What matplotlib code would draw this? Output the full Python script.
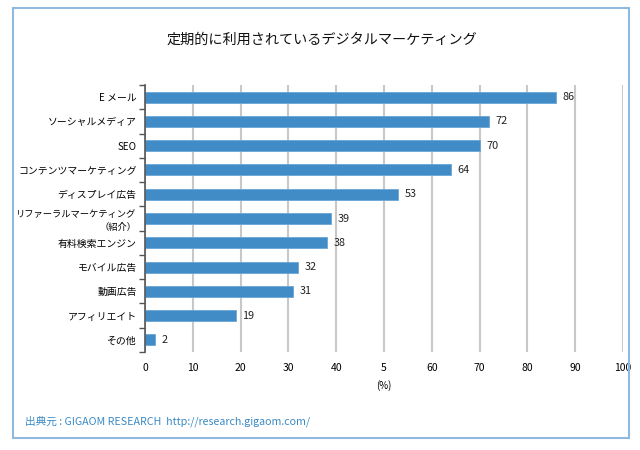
import matplotlib
matplotlib.use("Agg")
import matplotlib.pyplot as plt
from matplotlib.patches import Rectangle
import numpy as np

plt.rcParams['font.family'] = ['Noto Sans CJK JP', 'DejaVu Sans']

categories = ["E メール", "ソーシャルメディア", "SEO", "コンテンツマーケティング", "ディスプレイ広告",
              "リファーラルマーケティング\n（紹介）", "有料検索エンジン", "モバイル広告", "動画広告",
              "アフィリエイト", "その他"]
values = [86, 72, 70, 64, 53, 39, 38, 32, 31, 19, 2]
xticks = [0, 10, 20, 30, 40, 50, 60, 70, 80, 90, 100]
xtick_labels = ["0", "10", "20", "30", "40", "5", "60", "70", "80", "90", "100"]
title = "定期的に利用されているデジタルマーケティング"
xlabel = "(%)"
source = "出典元 : GIGAOM RESEARCH  http://research.gigaom.com/"

fig = plt.figure(figsize=(6.4, 4.5), dpi=100)
ax = fig.add_axes([145/640, 1-352/450, (623-145)/640, (352-85)/450])

y = np.arange(len(categories))
ax.barh(y, values, height=0.45, color="#418cc6", edgecolor="#6aa6d6", linewidth=0.6, zorder=3)
for yi, v in zip(y, values):
    ax.text(v + 1.4, yi, str(v), va="center", ha="left", fontsize=7.8, color="#222222")

ax.set_xlim(0, 100)
ax.set_ylim(len(categories) - 0.5, -0.5)
ax.set_xticks(xticks)
ax.set_xticklabels(xtick_labels, fontsize=7.5)
ax.tick_params(axis="x", length=0, pad=8)
ax.set_yticks(y)
labels = ax.set_yticklabels(categories, fontsize=7.1, multialignment="right")
for lab in labels:
    if "\n" in lab.get_text():
        lab.set_fontsize(6.7)
        lab.set_linespacing(1.55)
ax.tick_params(axis="y", which="major", length=0, pad=6)
ax.set_yticks(np.arange(len(categories) + 1) - 0.5, minor=True)
ax.tick_params(axis="y", which="minor", length=4, width=1, color="#555555", direction="out")
ax.grid(axis="x", color="#c8c8c8", linewidth=1.5, zorder=0)
ax.set_axisbelow(True)
for s in ["top", "right", "bottom"]:
    ax.spines[s].set_visible(False)
ax.spines["left"].set_color("#555555")
ax.spines["left"].set_linewidth(1.2)
ax.spines["left"].set_zorder(4)
ax.set_xlabel(xlabel, fontsize=7, labelpad=5)

fig.text(322/640, 1-40/450, title, ha="center", va="center", fontsize=10.2, color="#111111")
fig.text(25/640, 1-421/450, source, ha="left", va="center", fontsize=7.7, color="#3a8ac4")

fig.patches.append(Rectangle((13/640, 1-438/450), (629-13)/640, (438-8)/450,
                             transform=fig.transFigure, fill=False,
                             edgecolor="#8fbadf", linewidth=1.5))

fig.savefig("out.png", dpi=100)
